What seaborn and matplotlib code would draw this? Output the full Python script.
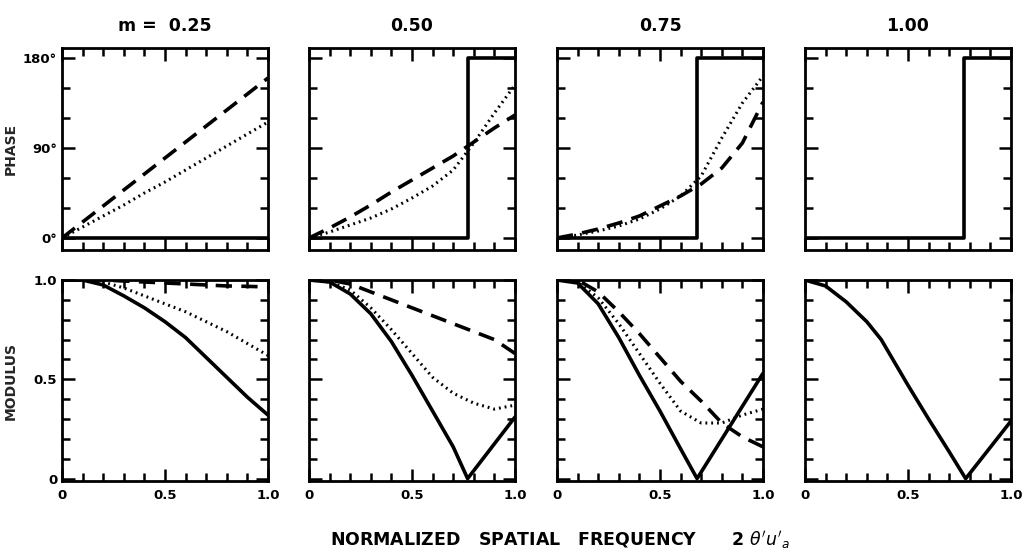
import numpy as np
import pandas as pd
import matplotlib
matplotlib.use("Agg")
import matplotlib.pyplot as plt
import seaborn as sns
from matplotlib.ticker import MultipleLocator

sns.set_theme(style="white")
plt.rcParams['font.family'] = ['DejaVu Sans']

# ---------------- data ----------------
titles = ["m =  0.25", "0.50", "0.75", "1.00"]
XS = [0.0, 0.1, 0.2, 0.3, 0.4, 0.5, 0.6, 0.7, 0.8, 0.9, 1.0]

# phase (degrees)
phase_dash_025 = [0, 16, 32, 48, 64, 80, 96, 112, 128, 144, 160]
phase_dot_025 = [0, 11, 22, 33, 45, 56, 68, 80, 92, 104, 116]
phase_dash_050 = [0, 10, 21, 33, 46, 58, 70, 82, 96, 110, 123]
phase_dot_050 = [0, 6, 13, 20, 29, 40, 52, 68, 95, 125, 153]
phase_dash_075 = [0, 4, 9, 15, 22, 32, 42, 54, 70, 95, 136]
phase_dot_075 = [0, 3, 7, 12, 19, 29, 42, 62, 100, 135, 162]

# phase jump positions (solid line, 0 -> 180 deg)
jump_x = [None, 0.77, 0.68, 0.77]
phase_solid_x_025 = [0.0, 1.0]
phase_solid_y_025 = [0, 0]

# modulus
mod_solid_x_025 = XS
mod_solid_025 = [1.0, 1.0, 0.975, 0.92, 0.86, 0.79, 0.71, 0.61, 0.51, 0.41, 0.32]
mod_dot_025 = [1.0, 1.0, 0.99, 0.96, 0.92, 0.88, 0.84, 0.79, 0.74, 0.68, 0.62]
mod_dash_025 = [1.0, 1.0, 1.0, 0.995, 0.99, 0.985, 0.98, 0.975, 0.97, 0.968, 0.965]

mod_solid_x_050 = [0.0, 0.1, 0.2, 0.3, 0.4, 0.5, 0.6, 0.7, 0.77, 1.0]
mod_solid_050 = [1.0, 0.99, 0.93, 0.83, 0.69, 0.52, 0.34, 0.16, 0.0, 0.31]
mod_dot_050 = [1.0, 0.99, 0.95, 0.86, 0.75, 0.63, 0.51, 0.43, 0.38, 0.35, 0.37]
mod_dash_050 = [1.0, 1.0, 0.98, 0.94, 0.90, 0.86, 0.82, 0.78, 0.74, 0.70, 0.63]

mod_solid_x_075 = [0.0, 0.1, 0.2, 0.3, 0.4, 0.5, 0.6, 0.68, 1.0]
mod_solid_075 = [1.0, 0.985, 0.88, 0.71, 0.52, 0.34, 0.15, 0.0, 0.53]
mod_dot_075 = [1.0, 0.99, 0.91, 0.78, 0.63, 0.48, 0.34, 0.28, 0.28, 0.32, 0.35]
mod_dash_075 = [1.0, 1.0, 0.94, 0.84, 0.73, 0.61, 0.49, 0.39, 0.28, 0.21, 0.16]

mod_solid_x_100 = [0.0, 0.1, 0.2, 0.3, 0.37, 0.5, 0.6, 0.7, 0.78, 1.0]
mod_solid_100 = [1.0, 0.97, 0.89, 0.79, 0.70, 0.47, 0.30, 0.135, 0.0, 0.29]

# ---------------- figure ----------------
fig = plt.figure(figsize=(10.23, 5.59), dpi=100)
W, H = 1023, 559
lefts = [62, 309, 557, 805]
width = 206

def make_ax(left, top, bottom):
    return fig.add_axes([left / W, 1 - bottom / H, width / W, (bottom - top) / H])

def style_ax(ax, ymajor, yminor):
    for s in ax.spines.values():
        s.set_visible(True)
        s.set_color("black")
        s.set_linewidth(2.0)
    ax.set_facecolor("white")
    ax.xaxis.set_major_locator(MultipleLocator(0.5))
    ax.xaxis.set_minor_locator(MultipleLocator(0.1))
    ax.yaxis.set_major_locator(MultipleLocator(ymajor))
    ax.yaxis.set_minor_locator(MultipleLocator(yminor))
    ax.tick_params(which="both", direction="in", top=True, right=True,
                   bottom=True, left=True, color="black", width=1.8)
    ax.tick_params(which="major", length=9)
    ax.tick_params(which="minor", length=6)
    ax.set_xlabel("")
    ax.set_ylabel("")
    ax.grid(False)

def line(ax, x, y, kind):
    if kind == "solid":
        sns.lineplot(x=x, y=y, ax=ax, color="black", lw=2.6, estimator=None,
                     sort=False, legend=False)
    elif kind == "dash":
        l = sns.lineplot(x=x, y=y, ax=ax, color="black", lw=2.6, estimator=None,
                         sort=False, legend=False)
        l.lines[-1].set_dashes([4.5, 2.6])
    else:
        l = sns.lineplot(x=x, y=y, ax=ax, color="black", lw=2.2, estimator=None,
                         sort=False, legend=False)
        l.lines[-1].set_dashes([0.6, 1.3])

phase_dash = [phase_dash_025, phase_dash_050, phase_dash_075, None]
phase_dot = [phase_dot_025, phase_dot_050, phase_dot_075, None]
mod_solid_x = [mod_solid_x_025, mod_solid_x_050, mod_solid_x_075, mod_solid_x_100]
mod_solid = [mod_solid_025, mod_solid_050, mod_solid_075, mod_solid_100]
mod_dot = [mod_dot_025, mod_dot_050, mod_dot_075, None]
mod_dash = [mod_dash_025, mod_dash_050, mod_dash_075, None]

lab_font = dict(fontsize=9.5, fontweight="bold", color="black")

for i in range(4):
    # phase panel
    axp = make_ax(lefts[i], 48, 250)
    if phase_dash[i] is not None:
        line(axp, XS, phase_dash[i], "dash")
        line(axp, XS, phase_dot[i], "dot")
    if jump_x[i] is None:
        line(axp, phase_solid_x_025, phase_solid_y_025, "solid")
    else:
        jx = jump_x[i]
        line(axp, [0.0, jx, jx, 1.0], [0, 0, 180, 180], "solid")
    axp.set_xlim(0, 1.0)
    axp.set_ylim(-12, 190)
    style_ax(axp, 90, 30)
    axp.set_xticklabels([])
    if i == 0:
        axp.set_yticks([0, 90, 180])
        axp.set_yticklabels(["0°", "90°", "180°"], **lab_font)
        axp.set_ylabel("PHASE", fontsize=10, fontweight="bold")
        axp.yaxis.set_label_coords(-0.215, 0.5)
    else:
        axp.set_yticklabels([])
    axp.set_title(titles[i], fontsize=12.5, fontweight="bold", pad=12, color="black")

    # modulus panel
    axm = make_ax(lefts[i], 280, 481)
    if mod_dash[i] is not None:
        line(axm, XS, mod_dash[i], "dash")
        line(axm, XS, mod_dot[i], "dot")
    line(axm, mod_solid_x[i], mod_solid[i], "solid")
    axm.set_xlim(0, 1.0)
    axm.set_ylim(-0.012, 1.0)
    style_ax(axm, 0.5, 0.1)
    axm.set_xticks([0, 0.5, 1.0])
    axm.set_xticklabels(["0", "0.5", "1.0"], **lab_font)
    axm.tick_params(axis="x", pad=6)
    if i == 0:
        axm.set_yticks([0, 0.5, 1.0])
        axm.set_yticklabels(["0", "0.5", "1.0"], **lab_font)
        axm.set_ylabel("MODULUS", fontsize=10, fontweight="bold")
        axm.yaxis.set_label_coords(-0.215, 0.5)
    else:
        axm.set_yticklabels([])

fig.text(330 / W, 1 - 540 / H,
         "NORMALIZED   SPATIAL   FREQUENCY      2 $\\theta' u'_{a}$",
         ha="left", va="center", fontsize=12.5, fontweight="bold", color="black")

fig.savefig("out.png", dpi=100, facecolor="white")
